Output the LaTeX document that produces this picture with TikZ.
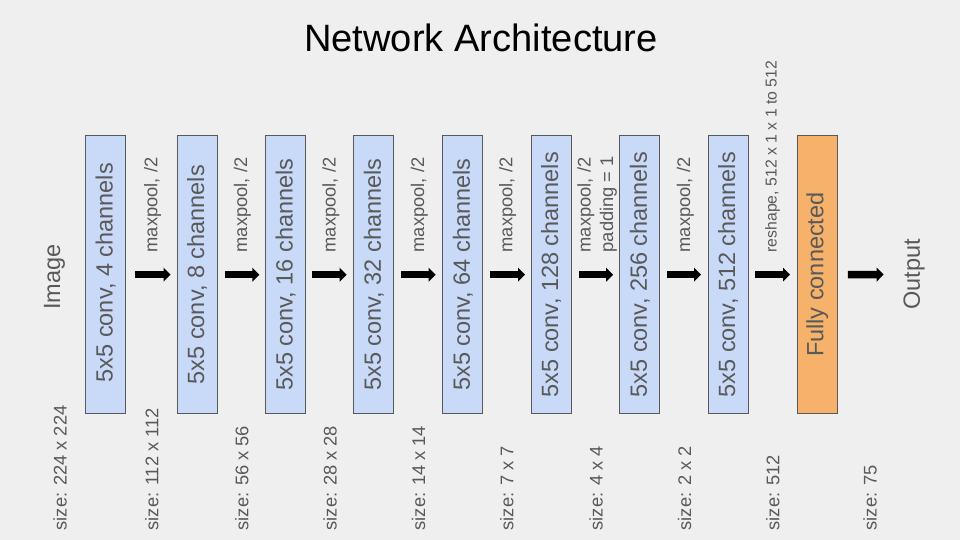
\documentclass[tikz,border=0pt]{standalone}
\usepackage{graphicx}
\usepackage{fontspec}
\setmainfont{Liberation Sans}
\usetikzlibrary{arrows.meta}
\definecolor{bg}{HTML}{EFEFEF}
\definecolor{boxblue}{HTML}{C9DAF8}
\definecolor{boxorange}{HTML}{F6B26B}
\definecolor{edge}{HTML}{595959}
\definecolor{txt}{HTML}{595959}
\begin{document}
\begin{tikzpicture}[x=1pt,y=-1pt,
  layer/.style={draw=edge, line width=1.3pt, fill=boxblue, minimum width=40pt,
    minimum height=278pt, inner sep=0pt, text=txt, font=\fontsize{23.5}{28}\selectfont},
  fcbox/.style={layer, fill=boxorange},
  lbl/.style={rotate=90, anchor=base west, inner sep=0pt, text=txt,
    font=\fontsize{18.3}{22}\selectfont},
  smalllbl/.style={lbl, font=\fontsize{15.8}{19}\selectfont},
  biglbl/.style={rotate=90, anchor=base west, inner sep=0pt, text=txt,
    font=\fontsize{23.5}{28}\selectfont},
  flow/.style={line width=7.5pt, black, -{Triangle[width=13.5pt,length=7pt]}}
]
\useasboundingbox (0,0) rectangle (960,540);
\fill[bg] (0,0) rectangle (960,540);

\node[anchor=base, inner sep=0pt, font=\fontsize{38.1}{45}\selectfont] (title) at (481,51.7) {Network Architecture};

\node[layer] (b1) at (105.5,274.7) {\rotatebox{90}{\hspace{4pt}5x5 conv, 4 channels}};
\node[layer] (b2) at (197.2,274.7) {\rotatebox{90}{5x5 conv, 8 channels}};
\node[layer] (b3) at (285.5,274.7) {\rotatebox{90}{5x5 conv, 16 channels}};
\node[layer] (b4) at (373.8,274.7) {\rotatebox{90}{5x5 conv, 32 channels}};
\node[layer] (b5) at (462.8,274.7) {\rotatebox{90}{5x5 conv, 64 channels}};
\node[layer] (b6) at (551.2,274.7) {\rotatebox{90}{5x5 conv, 128 channels}};
\node[layer] (b7) at (639.8,274.7) {\rotatebox{90}{5x5 conv, 256 channels}};
\node[layer] (b8) at (728.2,274.7) {\rotatebox{90}{5x5 conv, 512 channels}};
\node[fcbox] (fc) at (817.2,274.7) {\rotatebox{90}{Fully connected}};

\node[biglbl] (img) at (60,310) {Image};
\node[biglbl] (out) at (919.8,310) {Output};

\draw[flow] ([xshift=9pt]b1.east) -- ([xshift=-6pt]b2.west);
\draw[flow] ([xshift=7pt]b2.east) -- ([xshift=-5.5pt]b3.west);
\draw[flow] ([xshift=5.5pt]b3.east) -- ([xshift=-6.5pt]b4.west);
\draw[flow] ([xshift=6.5pt]b4.east) -- ([xshift=-6.5pt]b5.west);
\draw[flow] ([xshift=6.5pt]b5.east) -- ([xshift=-5.5pt]b6.west);
\draw[flow] ([xshift=7pt]b6.east) -- ([xshift=-6pt]b7.west);
\draw[flow] ([xshift=7pt]b7.east) -- ([xshift=-6.5pt]b8.west);
\draw[flow] ([xshift=6.5pt]b8.east) -- ([xshift=-6.5pt]fc.west);
\draw[flow] ([xshift=10pt]fc.east) -- ([xshift=-19.5pt]out.north);

\node[lbl] (m1) at (157.3,252.5) {maxpool, /2};
\node[lbl] (m2) at (247,252.5) {maxpool, /2};
\node[lbl] (m3) at (335.7,252.5) {maxpool, /2};
\node[lbl] (m4) at (424,252.5) {maxpool, /2};
\node[lbl] (m5) at (512.3,252.5) {maxpool, /2};
\node[lbl] (m6) at (590.7,252.5) {maxpool, /2};
\node[lbl] (p6) at (613,252.5) {padding = 1};
\node[lbl] (m7) at (690,252.5) {maxpool, /2};
\node[smalllbl] (r8) at (776.7,252.5) {reshape, 512 x 1 x 1 to 512};

\node[lbl] (s0) at (66.7,530.5) {size: 224 x 224};
\node[lbl] (s1) at (158.3,530.5) {size: 112 x 112};
\node[lbl] (s2) at (248.3,530.5) {size: 56 x 56};
\node[lbl] (s3) at (336.7,530.5) {size: 28 x 28};
\node[lbl] (s4) at (425,530.5) {size: 14 x 14};
\node[lbl] (s5) at (513.3,530.5) {size: 7 x 7};
\node[lbl] (s6) at (602.7,530.5) {size: 4 x 4};
\node[lbl] (s7) at (691,530.5) {size: 2 x 2};
\node[lbl] (s8) at (779.3,530.5) {size: 512};
\node[lbl] (s9) at (876.7,530.5) {size: 75};
\end{tikzpicture}
\end{document}
